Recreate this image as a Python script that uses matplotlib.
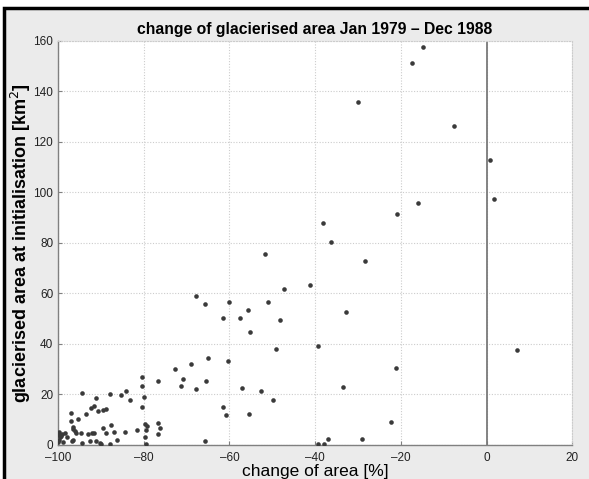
import matplotlib
matplotlib.use("Agg")
import matplotlib.pyplot as plt
from matplotlib.patches import Rectangle

plt.rcParams['font.family'] = ['Liberation Sans', 'DejaVu Sans']

# change of area [%] and glacierised area at initialisation [km2]
change_high = [-14.9, -17.5, -29.9, -7.6, 0.8, 1.7, -16.1, -20.9, -38.2, -36.2, -28.4,
               -41.2, -32.9, -39.4, 7.0, -21.2, -33.4, -22.2, -29.0, -37.0, -38.0, -39.4]
area_high = [157.4, 151.3, 135.8, 126.4, 112.9, 97.4, 95.9, 91.6, 88.0, 80.5, 72.7,
             63.4, 52.8, 39.1, 37.4, 30.4, 22.8, 9.2, 2.4, 2.4, 0.5, 0.3]

change_mid = [-51.7, -67.7, -65.7, -60.1, -61.5, -57.6, -55.6, -55.2, -51.0, -48.3, -47.3,
              -49.2, -65.0, -60.4, -68.9, -72.6, -65.5, -67.8, -57.0, -52.6, -49.9, -61.5,
              -60.8, -55.4, -65.6, -76.6, -70.9, -71.3]
area_mid = [75.6, 59.0, 55.7, 56.6, 50.1, 50.4, 53.6, 44.9, 56.5, 49.5, 61.7,
            38.1, 34.3, 33.3, 32.1, 30.0, 25.4, 22.1, 22.7, 21.2, 17.9, 15.2,
            12.0, 12.1, 1.4, 25.4, 26.1, 23.2]

change_low = [-80.4, -80.3, -85.2, -84.2, -83.3, -80.0, -80.4, -87.8, -94.4, -91.2, -91.6,
              -92.2, -90.7, -89.5, -88.9, -93.5, -96.9, -95.4, -97.0, -96.5, -96.5, -96.1,
              -94.7, -96.5, -94.5, -93.0, -92.1, -91.7, -92.5, -91.2, -90.3, -89.9, -89.4,
              -88.7, -87.7, -86.9, -87.9, -86.3, -84.3, -81.5, -79.6, -79.3, -79.5, -79.6,
              -79.4, -76.7, -76.2, -76.6, -99.8, -99.8, -99.6, -99.7, -99.9, -99.2, -99.0,
              -98.4, -98.8, -95.7, -96.7, -97.8]
area_low = [26.8, 23.4, 19.8, 21.4, 18.0, 18.9, 15.1, 20.3, 20.6, 18.4, 15.6,
            14.5, 13.6, 14.0, 14.1, 12.3, 12.5, 10.4, 9.5, 7.2, 6.4, 5.5,
            4.6, 1.9, 0.9, 4.3, 4.7, 4.8, 1.6, 1.7, 0.9, 0.5, 6.7,
            4.9, 7.8, 5.1, 0.4, 2.0, 5.1, 5.9, 8.2, 7.6, 5.9, 3.0,
            0.3, 8.6, 6.6, 4.5, 5.3, 4.0, 3.0, 2.0, 1.0, 3.5, 4.2,
            4.6, 1.2, 4.6, 1.7, 3.2]

change = change_high + change_mid + change_low
area = area_high + area_mid + area_low

xticks = [-100, -80, -60, -40, -20, 0, 20]
yticks = [0, 20, 40, 60, 80, 100, 120, 140, 160]

fig = plt.figure(figsize=(5.89, 4.79), dpi=100, facecolor='white')
# grey window frame with black left/top edge
fig.patches.append(Rectangle((4 / 589, -0.1), 1.2, 1.1 - 8 / 479,
                             transform=fig.transFigure, facecolor='#ebebeb',
                             edgecolor='black', linewidth=2.5, zorder=-1))

ax = fig.add_axes([0.0985, 0.071, 0.873, 0.844])
ax.set_facecolor('white')
ax.plot(change, area, 'o', color='#3a3a3a', markersize=3.3, markeredgewidth=0, zorder=3)
ax.axvline(0, color='#7a7a7a', linewidth=1.3, zorder=2)

ax.set_xlim(-100, 20)
ax.set_ylim(0, 160)
ax.set_xticks(xticks)
ax.set_yticks(yticks)
ax.set_xticklabels([str(t).replace('-', '\u2013') for t in xticks])
ax.grid(True, linestyle=(0, (1, 1.5)), color='#cccccc', linewidth=0.8)

for side in ['top', 'right']:
    ax.spines[side].set_linestyle((0, (1, 1.5)))
    ax.spines[side].set_color('#cccccc')
    ax.spines[side].set_linewidth(0.8)
for side in ['left', 'bottom']:
    ax.spines[side].set_color('#808080')
    ax.spines[side].set_linewidth(1.0)

ax.tick_params(direction='in', length=3, color='#808080', labelsize=8.5,
               labelcolor='#222222')
ax.tick_params(axis='x', pad=5)

ax.set_title('change of glacierised area Jan 1979 \u2013 Dec 1988',
             fontsize=11.3, fontweight='bold', pad=5)
ax.set_xlabel('change of area [%]', fontsize=12.5, labelpad=0)
ax.set_ylabel('glacierised area at initialisation [km$^2$]', fontsize=13,
              fontweight='bold', labelpad=0)

fig.savefig('out.png', dpi=100, facecolor=fig.get_facecolor())
